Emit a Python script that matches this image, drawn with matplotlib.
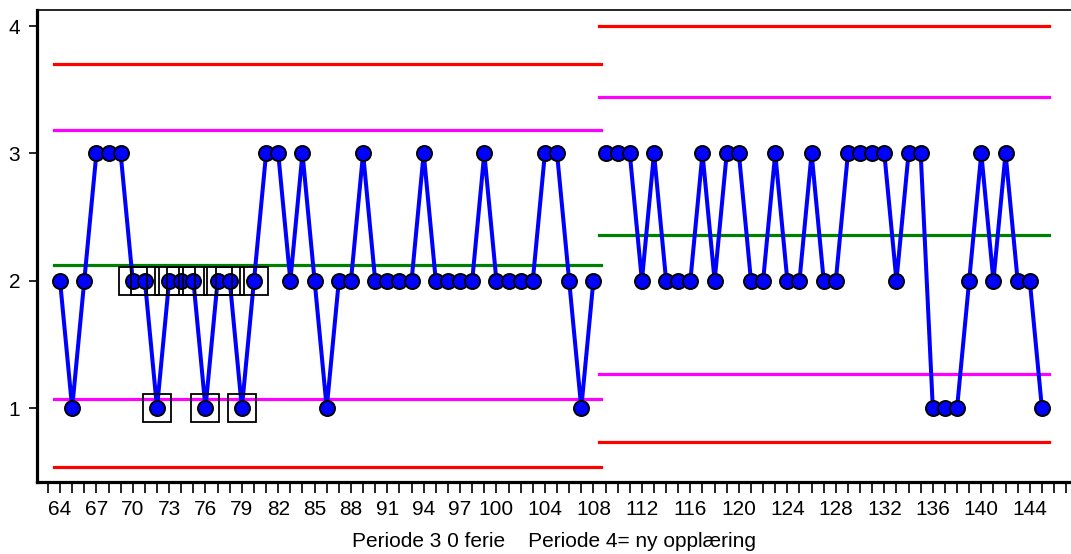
"""Control chart with two periods (Periode 3 / Periode 4)."""

import matplotlib

matplotlib.use("Agg")
import matplotlib.pyplot as plt  # noqa: E402
from matplotlib.ticker import FixedLocator, MultipleLocator  # noqa: E402

plt.rcParams["font.family"] = ["Liberation Sans", "DejaVu Sans"]

# Period 3 (0 ferie): observations 64..108
period1_x = list(range(64, 109))
period1_y = [
    2, 1, 2, 3, 3, 3, 2, 2, 1, 2, 2, 2, 1, 2, 2, 1, 2, 3, 3, 2, 3, 2, 1,
    2, 2, 3, 2, 2, 2, 2, 3, 2, 2, 2, 2, 3, 2, 2, 2, 2, 3, 3, 2, 1, 2,
]
# Period 4 (ny opplæring): observations 109..145
period2_x = list(range(109, 146))
period2_y = [
    3, 3, 3, 2, 3, 2, 2, 2, 3, 2, 3, 3, 2, 2, 3, 2, 2, 3, 2, 2, 3, 3, 3,
    3, 2, 3, 3, 1, 1, 1, 2, 3, 2, 3, 2, 2, 1,
]
# points flagged by a run rule (boxed)
flagged_x = list(range(70, 81))

# control limits per period: UCL, upper 2-sigma, centre, lower 2-sigma, LCL
period1_limits = {"ucl": 3.70, "u2": 3.18, "cl": 2.12, "l2": 1.07, "lcl": 0.54}
period2_limits = {"ucl": 4.00, "u2": 3.44, "cl": 2.36, "l2": 1.27, "lcl": 0.73}

tick_labels = list(range(64, 101, 3)) + list(range(104, 145, 4))
xlabel = "Periode 3 0 ferie    Periode 4= ny opplæring"

fig = plt.figure(figsize=(10.71, 5.54), dpi=100)
ax = fig.add_axes([37 / 1071, 1 - 482 / 554, 1 - 37 / 1071, 472 / 554])

limit_colors = {
    "ucl": "#ff0000",
    "u2": "#ff00ff",
    "cl": "#008000",
    "l2": "#ff00ff",
    "lcl": "#ff0000",
}
for xs, limits in ((period1_x, period1_limits), (period2_x, period2_limits)):
    x0, x1 = xs[0] - 0.5, xs[-1] + 0.6
    for key, val in limits.items():
        ax.plot([x0, x1], [val, val], color=limit_colors[key], linewidth=2.3, zorder=1)

for xs, ys in ((period1_x, period1_y), (period2_x, period2_y)):
    ax.plot(
        xs,
        ys,
        color="#0000ff",
        linewidth=2.9,
        marker="o",
        markersize=10.8,
        markerfacecolor="#0000ff",
        markeredgecolor="black",
        markeredgewidth=1.4,
        zorder=3,
    )

flagged_y = [period1_y[period1_x.index(x)] for x in flagged_x]
ax.plot(
    flagged_x,
    flagged_y,
    linestyle="none",
    marker="s",
    markersize=19.5,
    markerfacecolor="none",
    markeredgecolor="black",
    markeredgewidth=1.3,
    zorder=4,
)

ax.set_xlim(62.1, 147.4)
ax.set_ylim(0.419, 4.126)

ax.xaxis.set_major_locator(FixedLocator(tick_labels))
ax.xaxis.set_minor_locator(MultipleLocator(1))
ax.set_xticklabels([str(t) for t in tick_labels])
ax.set_yticks([1, 2, 3, 4])
ax.tick_params(axis="both", which="both", direction="out", width=1.2,
               labelsize=15, colors="black")
ax.tick_params(axis="x", which="both", length=8)
ax.tick_params(axis="x", which="major", pad=5)
ax.tick_params(axis="y", length=6, pad=6)

ax.spines["right"].set_visible(False)
ax.spines["left"].set_linewidth(2.3)
ax.spines["bottom"].set_linewidth(2.3)
ax.spines["top"].set_linewidth(1.2)

ax.set_xlabel(xlabel, fontsize=15, labelpad=9)

fig.savefig("out.png", dpi=100)
